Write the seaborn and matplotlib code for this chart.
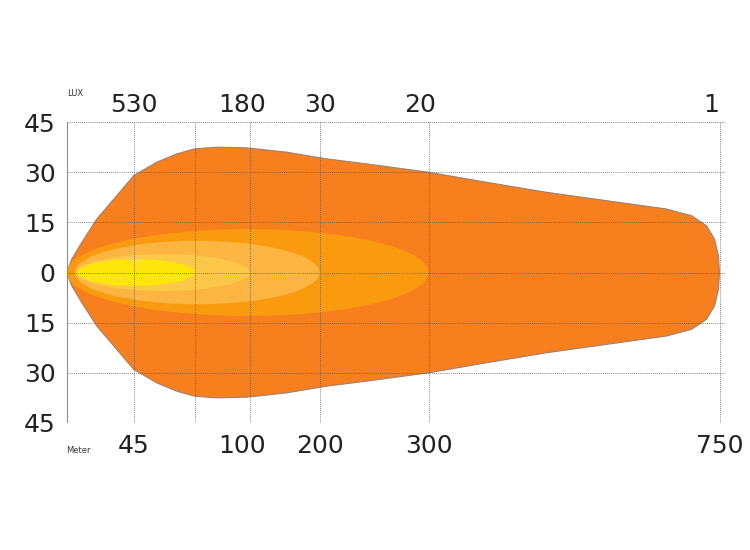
import numpy as np
import matplotlib.pyplot as plt
import seaborn as sns
from matplotlib.patches import Ellipse

sns.set_style('white')
plt.rcParams['font.family'] = ['DejaVu Sans']

# distance labels (bottom) and lux labels (top) with their positions on the chart
meter_labels = ['45', '100', '200', '300', '750']
meter_pos = [67, 175, 253, 362, 653]
lux_labels = ['530', '180', '30', '20', '1']
lux_pos = [67, 175, 253, 353, 645]
grid_x = [67, 128, 183, 253, 362, 653]
y_ticks = [45, 30, 15, 0, -15, -30, -45]
y_labels = ['45', '30', '15', '0', '15', '30', '45']

# outer beam outline (upper half, mirrored)
outer_x = [0, 5, 15, 30, 50, 67, 90, 110, 128, 150, 180, 220, 260, 300, 362,
           420, 480, 540, 600, 625, 640, 648, 652, 653]
outer_y = [0, 4, 9, 16, 23, 29, 33, 35.5, 37, 37.5, 37.3, 36, 34, 32.5, 30,
           27, 24, 21.5, 19, 17, 14, 10, 5, 0]

# inner zones: start, end, half height, colour
zone_start = [0, 8, 10, 10]
zone_end = [362, 253, 183, 128]
zone_half = [13, 9.5, 5.5, 4]
zone_colors = ['#f99a0f', '#fcb540', '#fdc84a', '#ffe60a']

fig = plt.figure(figsize=(7.5, 5.5), dpi=100)
ax = fig.add_axes([0.089, 0.231, 0.877, 0.547])

xs = outer_x + outer_x[::-1]
ys = outer_y + [-v for v in outer_y[::-1]]
ax.fill(xs, ys, color='#f77f1e', ec='#a08070', lw=0.8, zorder=1)

for s, e, h, c in zip(zone_start, zone_end, zone_half, zone_colors):
    ax.add_patch(Ellipse(((s + e) / 2, 0), e - s, 2 * h, color=c, lw=0, zorder=2))

for gx in grid_x:
    ax.axvline(gx, color='#555555', lw=0.6, ls=(0, (1, 1.5)), zorder=3)
for gy in y_ticks:
    ax.axhline(gy, color='#555555', lw=0.6, ls=(0, (1, 1.5)), zorder=3)
ax.axvline(0, color='#888888', lw=0.8, zorder=3)

ax.set_xlim(0, 658)
ax.set_ylim(-45, 45)
sns.despine(ax=ax, left=True, bottom=True)
ax.set_yticks(y_ticks)
ax.set_yticklabels(y_labels, fontsize=18, color='#222222')
ax.set_xticks(meter_pos)
ax.set_xticklabels(meter_labels, fontsize=18, color='#222222')
ax.tick_params(length=0, pad=8)

top = ax.secondary_xaxis('top')
top.set_xticks(lux_pos)
top.set_xticklabels(lux_labels, fontsize=18, color='#222222')
top.tick_params(length=0, pad=4)
top.spines['top'].set_visible(False)

fig.text(0.09, 0.825, 'LUX', fontsize=6, color='#333333')
fig.text(0.088, 0.177, 'Meter', fontsize=6, color='#333333')

fig.savefig('out.png', dpi=100)
